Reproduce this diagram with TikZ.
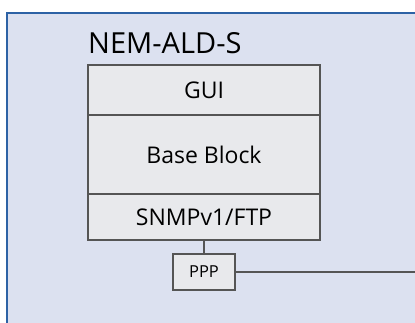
\documentclass[tikz,border=0pt]{standalone}
\usepackage{fontspec}
\setmainfont{Open Sans}
\usetikzlibrary{positioning}
\definecolor{frameBlue}{RGB}{45,98,165}
\definecolor{frameFill}{RGB}{220,225,240}
\definecolor{boxGray}{RGB}{232,233,236}
\definecolor{lineGray}{RGB}{85,85,85}

\begin{document}
\begin{tikzpicture}[x=1pt, y=1pt,
		layer/.style={draw=lineGray, fill=boxGray, line width=1.5pt,
			minimum width=232pt, inner sep=0pt, outer sep=0pt,
			font=\fontsize{23}{26}\selectfont},
		portbox/.style={draw=lineGray, fill=boxGray, line width=1.5pt,
			minimum width=62pt, minimum height=36pt, inner sep=0pt,
			font=\fontsize{16.5}{19}\selectfont},
		link/.style={draw=lineGray, line width=1.5pt},
	]
		\useasboundingbox (0,0) rectangle (415,322);
		\clip (0,0) rectangle (415,322);
		\draw[frameBlue, fill=frameFill, line width=1.5pt] (7,309) rectangle (440,-20);
		%
		\node[layer, minimum height=50pt] (gui) at (204,232) {GUI};
		\node[layer, minimum height=79pt, below=0pt of gui] (base) {Base Block};
		\node[layer, minimum height=46pt, below=0pt of base] (snmp) {SNMPv1/FTP};
		\node[anchor=base west, inner sep=0pt, font=\fontsize{29}{32}\selectfont]
			(title) at ([yshift=11pt]gui.north west) {NEM-ALD-S};
		%
		\node[portbox, below=13pt of snmp] (ppp) {PPP};
		\coordinate (exit) at (430,0 |- ppp.east);
		\draw[link] (snmp.south) -- (ppp.north);
		\draw[link] (ppp.east) -- (exit);
	\end{tikzpicture}
\end{document}
